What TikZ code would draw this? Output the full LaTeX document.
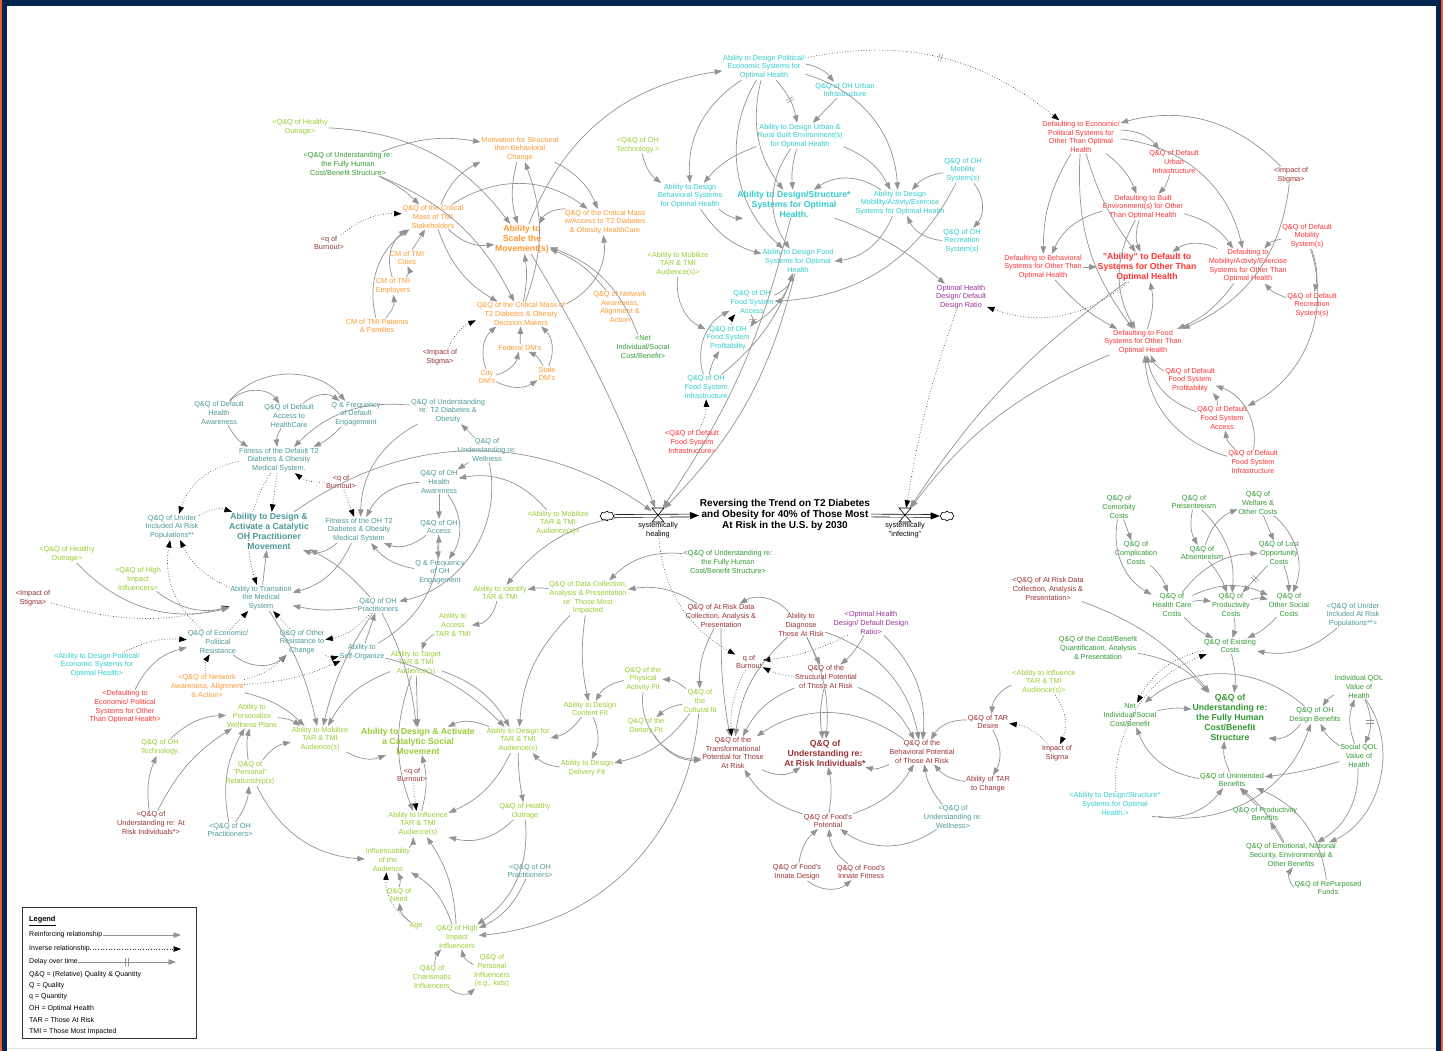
\documentclass[tikz,border=0pt]{standalone}
\usepackage{fontspec}
\setmainfont{Liberation Sans}
\usetikzlibrary{arrows.meta,shapes.symbols,decorations.markings}

\definecolor{cOrg}{HTML}{FF9933}
\definecolor{cCya}{HTML}{33CCCC}
\definecolor{cRed}{HTML}{FF3333}
\definecolor{cMar}{HTML}{993333}
\definecolor{cTea}{HTML}{4D9999}
\definecolor{cLim}{HTML}{99CC33}
\definecolor{cGrn}{HTML}{339933}
\definecolor{cPur}{HTML}{993399}
\definecolor{cLnk}{HTML}{939393}
\definecolor{cNavy}{HTML}{00264D}
\definecolor{cEdge}{HTML}{E65C3C}

\tikzset{
  sdv/.style={align=center, inner sep=0.8pt, font=\fontsize{7.3}{8.7}\selectfont},
  big/.style={font=\fontsize{8.7}{10}\selectfont\bfseries},
  orgv/.style={sdv, text=cOrg},
  cyav/.style={sdv, text=cCya},
  redv/.style={sdv, text=cRed},
  marv/.style={sdv, text=cMar},
  teav/.style={sdv, text=cTea},
  limv/.style={sdv, text=cLim},
  grnv/.style={sdv, text=cGrn},
  purv/.style={sdv, text=cPur},
  lnk/.style={draw=cLnk, line width=0.7pt, -{Triangle[length=7.5pt,width=5.5pt]}},
  inv/.style={draw=black!75, dotted, line width=0.65pt, -{Triangle[length=7.5pt,width=5.5pt,color=black,fill=black]}},
  dly/.style={postaction={decorate, decoration={markings, mark=at position 0.5 with {\draw[draw=cLnk, line width=0.5pt, solid, -] (-1.3pt,-4pt) -- (-1.3pt,4pt) (1.3pt,-4pt) -- (1.3pt,4pt);}}}},
  pipe/.style={draw=black, line width=0.6pt, double=white, double distance=2.2pt, -{Triangle[length=9pt,width=7pt,fill=black]}},
  valve/.style={draw=black, fill=white, line width=0.6pt},
  lg/.style={anchor=west, inner sep=0pt, font=\fontsize{7}{8}\selectfont},
}

\begin{document}
\begin{tikzpicture}[x=1pt,y=-1pt]
  %%%%% FRAME %%%%%
  \useasboundingbox (0,0) rectangle (1443,1051);
  \fill[white] (0,0) rectangle (1443,1051);
  \fill[cNavy] (0,0) rectangle (1443,6);
  \fill[cEdge] (0,0) rectangle (2,1051);
  \fill[cNavy] (2,0) rectangle (7,1051);
  \fill[cNavy] (1436,0) rectangle (1441,1051);
  \fill[cEdge] (1441,0) rectangle (1443,1051);
  \draw[black!12, line width=1pt] (7,1048) -- (1436,1048);

  %%%%% ORANGE: scaling the movement %%%%%
  \node[limv] (houtA) at (300,127) {<Q\&Q of Healthy\\Outrage>};
  \node[grnv] (fhA) at (348,164) {<Q\&Q of Understanding re:\\the Fully Human\\Cost/Benefit Structure>};
  \node[marv] (burnA) at (329,243) {<q of\\Burnout>};
  \node[orgv] (cmtmi) at (433,217) {Q\&Q of the Critical\\Mass of TMI\\Stakeholders};
  \node[orgv] (cmcity) at (407,258) {CM of TMI\\Cities};
  \node[orgv] (cmemp) at (393,286) {CM of TMI\\Employers};
  \node[orgv] (cmpat) at (377,326) {CM of TMI Patients\\\& Families};
  \node[orgv] (motiv) at (520,149) {Motivation for Structural\\then Behavioral\\Change};
  \node[orgv, big] (scale) at (522,239) {Ability to\\Scale the\\Movement(s)};
  \node[orgv] (cmacc) at (605,222) {Q\&Q of the Critical Mass\\w/Access to T2 Diabetes\\\& Obesity HealthCare};
  \node[orgv] (cmdm) at (521,314) {Q\&Q of the Critical Mass of\\T2 Diabetes \& Obesity\\Decision Makers};
  \node[orgv] (netw) at (620,307) {Q\&Q of Network\\Awareness,\\Alignment \&\\Action};
  \node[grnv] (netA) at (643,347) {<Net\\Individual/Social\\Cost/Benefit>};
  \node[marv] (stigA) at (440,357) {<Impact of\\Stigma>};
  \node[orgv] (fed) at (520,348) {Federal DM's};
  \node[orgv] (city) at (487,377) {City\\DM's};
  \node[orgv] (state) at (547,374) {State\\DM's};

  %%%%% CYAN: designing systems %%%%%
  \node[limv] (techA) at (638,145) {<Q\&Q of OH\\Technology.>};
  \node[cyav] (behav) at (690,196) {Ability to Design\\Behavioral Systems\\for Optimal Health};
  \node[cyav] (pol) at (764,67) {Ability to Design Political/\\Economic Systems for\\Optimal Health};
  \node[cyav] (qurb) at (845,90) {Q\&Q of OH Urban\\Infrastructure};
  \node[cyav] (urb) at (800,136) {Ability to Design Urban \&\\Rural Built Environment(s)\\for Optimal Health};
  \node[cyav, big] (struct) at (794,204) {Ability to Design/Structure*\\Systems for Optimal\\Health.};
  \node[cyav] (mob) at (900,203) {Ability to Design\\Mobility/Activty/Exercise\\Systems for Optimal Health};
  \node[cyav] (qmob) at (963,170) {Q\&Q of OH\\Mobility\\System(s)};
  \node[cyav] (qrec) at (962,241) {Q\&Q of OH\\Recreation\\System(s)};
  \node[cyav] (food) at (798,261) {Ability to Design Food\\Systems for Optimal\\Health};
  \node[limv] (mobA) at (678,264) {<Ability to Mobilize\\TAR \& TMI\\Audience(s)>};
  \node[cyav] (facc) at (752,302) {Q\&Q of OH\\Food System\\Access};
  \node[cyav] (fprof) at (728,338) {Q\&Q of OH\\Food System\\Profitability};
  \node[cyav] (finfra) at (706,387) {Q\&Q of OH\\Food System\\Infrastructure};
  \node[redv] (dfinfA) at (692,442) {<Q\&Q of Default\\Food System\\Infrastructure>};
  \node[purv] (ratio) at (961,297) {Optimal Health\\Design/ Default\\Design Ratio};

  %%%%% RED: defaulting %%%%%
  \node[redv] (defEcon) at (1081,137) {Defaulting to Economic/\\Political Systems for\\Other Than Optimal\\Health};
  \node[redv] (qdurb) at (1174,162) {Q\&Q of Default\\Urban\\Infrastructure};
  \node[marv] (stigB) at (1291,175) {<Impact of\\Stigma>};
  \node[redv] (defBuilt) at (1143,207) {Defaulting to Built\\Environment(s) for Other\\Than Optimal Health};
  \node[redv] (defBeh) at (1043,267) {Defaulting to Behavioral\\Systems for Other Than\\Optimal Health};
  \node[redv, big] (abDef) at (1147,267) {"Ability" to Default to\\Systems for Other Than\\Optimal Health};
  \node[redv] (defMob) at (1248,266) {Defaulting to\\Mobility/Activty/Exercise\\Systems for Other Than\\Optimal Health};
  \node[redv] (qdmob) at (1307,236) {Q\&Q of Default\\Mobility\\System(s)};
  \node[redv] (qdrec) at (1312,305) {Q\&Q of Default\\Recreation\\System(s)};
  \node[redv] (defFood) at (1143,342) {Defaulting to Food\\Systems for Other Than\\Optimal Health};
  \node[redv] (dfprof) at (1190,380) {Q\&Q of Default\\Food System\\Profitability};
  \node[redv] (dfacc) at (1222,418) {Q\&Q of Default\\Food System\\Access};
  \node[redv] (dfinfra) at (1253,462) {Q\&Q of Default\\Food System\\Infrastructure};

  %%%%% TEAL: practitioner movement %%%%%
  \node[teav] (dHA) at (219,413) {Q\&Q of Default\\Health\\Awareness};
  \node[teav] (dAcc) at (289,416) {Q\&Q of Default\\Access to\\HealthCare};
  \node[teav] (dEng) at (356,414) {Q \& Frequency\\of Default\\Engagement};
  \node[teav] (uT2) at (448,411) {Q\&Q of Understanding\\re: T2 Diabetes \&\\Obesity};
  \node[teav] (fitDef) at (279,460) {Fitness of the Default T2\\Diabetes \& Obesity\\Medical System.};
  \node[marv] (burnB) at (341,482) {<q of\\Burnout>};
  \node[teav] (uWell) at (487,450) {Q\&Q of\\Understanding re:\\Wellness};
  \node[teav] (ohHA) at (439,482) {Q\&Q of OH\\Health\\Awareness};
  \node[teav] (unInc) at (172,527) {Q\&Q of Un/der\\Included At Risk\\Populations**};
  \node[teav, big] (abOH) at (269,531) {Ability to Design \&\\Activate a Catalytic\\OH Practitioner\\Movement};
  \node[teav] (fitOH) at (359,530) {Fitness of the OH T2\\Diabetes \& Obesity\\Medical System};
  \node[teav] (ohAcc) at (439,527) {Q\&Q of OH\\Access};
  \node[limv] (mobB) at (558,523) {<Ability to Mobilize\\TAR \& TMI\\Audience(s)>};
  \node[limv] (houtB) at (67,554) {<Q\&Q of Healthy\\Outrage>};
  \node[limv] (hiB) at (138,579) {<Q\&Q of High\\Impact\\Influencers>};
  \node[teav] (ohEng) at (440,572) {Q \& Frequency\\of OH\\Engagement};
  \node[teav] (trans) at (261,598) {Ability to Transition\\the Medical\\System};
  \node[marv] (stigC) at (33,598) {<Impact of\\Stigma>};
  \node[teav] (qOHP) at (378,605) {Q\&Q of OH\\Practitioners};
  \node[teav] (econRes) at (218,642) {Q\&Q of Economic/\\Political\\Resistance};
  \node[teav] (othRes) at (302,642) {Q\&Q of Other\\Resistance to\\Change};
  \node[teav] (selfOrg) at (362,652) {Ability to\\Self-Organize};
  \node[cyav] (polB) at (97,665) {<Ability to Design Political/\\Economic Systems for\\Optimal Health>};
  \node[orgv] (netwB) at (207,686) {<Q\&Q of Network\\Awareness, Alignment\\\& Action>};
  \node[redv] (defEconB) at (125,707) {<Defaulting to\\Economic/ Political\\Systems for Other\\Than Optimal Health>};

  %%%%% LIME: social movement %%%%%
  \node[limv] (ident) at (500,593) {Ability to Identify\\TAR \& TMI};
  \node[limv] (access) at (453,625) {Ability to\\Access\\TAR \& TMI};
  \node[limv] (target) at (416,663) {Ability to Target\\TAR \& TMI\\Audience(s)};
  \node[limv] (dataC) at (588,598) {Q\&Q of Data Collection,\\Analysis \& Presentation\\re: Those Most\\Impacted};
  \node[limv] (pers) at (252,716) {Ability to\\Personalize\\Wellness Plans};
  \node[limv] (techC) at (160,747) {Q\&Q of OH\\Technology.};
  \node[limv] (mobC) at (320,739) {Ability to Mobilize\\TAR \& TMI\\Audience(s)};
  \node[limv] (persRel) at (250,773) {Q\&Q of\\"Personal"\\Relationship(s)};
  \node[limv, big] (catSoc) at (418,741) {Ability to Design \& Activate\\a Catalytic Social\\Movement};
  \node[limv] (dsgnFor) at (518,740) {Ability to Design for\\TAR \& TMI\\Audience(s)};
  \node[marv] (burnC) at (412,775) {<q of\\Burnout>};
  \node[limv] (infl) at (418,824) {Ability to Influence\\TAR \& TMI\\Audience(s)};
  \node[limv] (hoC) at (525,811) {Q\&Q of Healthy\\Outrage};
  \node[limv] (inflcb) at (388,860) {Influencability\\of the\\Audience};
  \node[limv] (need) at (399,895) {Q\&Q of\\Need};
  \node[limv] (age) at (416,926) {Age};
  \node[limv] (hiC) at (457,937) {Q\&Q of High\\Impact\\Influencers};
  \node[teav] (ohpC) at (530,871) {<Q\&Q of OH\\Practitioners>};
  \node[limv] (charis) at (432,977) {Q\&Q of\\Charismatic\\Influencers};
  \node[limv] (persInf) at (492,971) {Q\&Q of\\Personal\\Influencers\\(e.g., kids)};
  \node[marv] (uARC) at (151,823) {<Q\&Q of\\Understanding re: At\\Risk Individuals*>};
  \node[teav] (ohpD) at (230,830) {<Q\&Q of OH\\Practitioners>};
  \node[limv] (phys) at (643,679) {Q\&Q of the\\Physical\\Activity Fit};
  \node[limv] (cult) at (700,701) {Q\&Q of\\the\\Cultural fit};
  \node[limv] (content) at (590,709) {Ability to Design\\Content Fit};
  \node[limv] (diet) at (646,726) {Q\&Q of the\\Dietary Fit};
  \node[limv] (deliv) at (587,768) {Ability to Design\\Delivery Fit};

  %%%%% MAROON: those at risk %%%%%
  \node[grnv] (fhB) at (728,562) {<Q\&Q of Understanding re:\\the Fully Human\\Cost/Benefit Structure>};
  \node[marv] (arData) at (721,616) {Q\&Q of At Risk Data\\Collection, Analysis \&\\Presentation};
  \node[marv] (diag) at (801,625) {Ability to\\Diagnose\\Those At Risk};
  \node[purv] (ratioB) at (871,623) {<Optimal Health\\Design/ Default Design\\Ratio>};
  \node[marv] (burnD) at (749,662) {q of\\Burnout};
  \node[marv] (structP) at (826,677) {Q\&Q of the\\Structural Potential\\of Those At Risk};
  \node[marv] (transf) at (733,753) {Q\&Q of the\\Transformational\\Potential for Those\\At Risk};
  \node[marv, big] (uARD) at (825,753) {Q\&Q of\\Understanding re:\\At Risk Individuals*};
  \node[marv] (behP) at (922,752) {Q\&Q of the\\Behavioral Potential\\of Those At Risk};
  \node[marv] (tarDes) at (988,722) {Q\&Q of TAR\\Desire};
  \node[marv] (abTAR) at (988,784) {Ability of TAR\\to Change};
  \node[marv] (stigD) at (1057,753) {Impact of\\Stigma};
  \node[limv] (infB) at (1044,682) {<Ability to Influence\\TAR \& TMI\\Audience(s)>};
  \node[marv] (foodP) at (828,821) {Q\&Q of Food's\\Potential};
  \node[teav] (uWellC) at (953,817) {<Q\&Q of\\Understanding re:\\Wellness>};
  \node[marv] (fInD) at (797,872) {Q\&Q of Food's\\Innate Design};
  \node[marv] (fInF) at (861,872) {Q\&Q of Food's\\Innate Fitness};
  \node[marv] (arDataB) at (1048,589) {<Q\&Q of At Risk Data\\Collection, Analysis \&\\Presentation>};

  %%%%% GREEN: costs and benefits %%%%%
  \node[grnv] (comorb) at (1119,507) {Q\&Q of\\Comorbity\\Costs};
  \node[grnv] (presen) at (1194,502) {Q\&Q of\\Presenteeism};
  \node[grnv] (welf) at (1258,503) {Q\&Q of\\Welfare \&\\Other Costs};
  \node[grnv] (compl) at (1136,553) {Q\&Q of\\Complication\\Costs};
  \node[grnv] (absen) at (1202,553) {Q\&Q of\\Absenteeism};
  \node[grnv] (lost) at (1279,553) {Q\&Q of Lost\\Opportunity\\Costs};
  \node[grnv] (hc) at (1172,605) {Q\&Q of\\Health Care\\Costs};
  \node[grnv] (prodC) at (1231,605) {Q\&Q of\\Productivity\\Costs};
  \node[grnv] (othSoc) at (1289,605) {Q\&Q of\\Other Social\\Costs};
  \node[teav] (unIncB) at (1353,615) {<Q\&Q of Un/der\\Included At Risk\\Populations**>};
  \node[grnv] (cbq) at (1098,648) {Q\&Q of the Cost/Benefit\\Quantification, Analysis\\\& Presentation};
  \node[grnv] (exist) at (1230,646) {Q\&Q of Existing\\Costs};
  \node[grnv] (net) at (1130,715) {Net\\Individual/Social\\Cost/Benefit};
  \node[grnv, big] (fhC) at (1230,717) {Q\&Q of\\Understanding re:\\the Fully Human\\Cost/Benefit\\Structure};
  \node[grnv] (indQ) at (1359,687) {Individual QOL\\Value of\\Health};
  \node[grnv] (dBen) at (1315,715) {Q\&Q of OH\\Design Benefits};
  \node[grnv] (socQ) at (1359,756) {Social QOL\\Value of\\Health};
  \node[grnv] (unint) at (1232,780) {Q\&Q of Unintended\\Benefits};
  \node[cyav] (structB) at (1115,804) {<Ability to Design/Structure*\\Systems for Optimal\\Health.>};
  \node[grnv] (prodB) at (1265,814) {Q\&Q of Productivity\\Benefits};
  \node[grnv] (emot) at (1291,855) {Q\&Q of Emotional, National\\Security, Environmental \&\\Other Benefits};
  \node[grnv] (repurp) at (1328,888) {Q\&Q of RePurposed\\Funds};

  %%%%% STOCK AND FLOWS %%%%%
  \node[sdv, font=\fontsize{10}{10.8}\selectfont\bfseries] (stock) at (785,515) {Reversing the Trend on T2 Diabetes\\and Obesity for 40\% of Those Most\\At Risk in the U.S. by 2030};
  \node[cloud, draw, cloud puffs=8, aspect=1.4, minimum width=14pt, minimum height=10pt, inner sep=0pt, line width=0.6pt] (cloudL) at (607,516) {};
  \node[cloud, draw, cloud puffs=8, aspect=1.4, minimum width=14pt, minimum height=10pt, inner sep=0pt, line width=0.6pt] (cloudR) at (947,516) {};
  \node[inner sep=0pt, minimum width=12pt, minimum height=14pt] (heal) at (658,515) {};
  \node[inner sep=0pt, minimum width=12pt, minimum height=14pt] (infect) at (905,515) {};
  \node[sdv] (healLbl) at (658,530) {systemically\\healing};
  \node[sdv] (infLbl) at (905,530) {systemically\\"infecting"};

  %%%%% LINKS: orange %%%%%
  \draw[lnk] (houtA) to[bend left=25] (scale);
  \draw[lnk] (fhA) to[bend left=15] (motiv);
  \draw[lnk] (fhA) to[bend left=10] (cmtmi);
  \draw[lnk] (fhA) to[bend left=20] (cmdm);
  \draw[inv] (burnA) to[bend left=20] (cmtmi);
  \draw[lnk] (cmtmi) to[bend left=20] (motiv);
  \draw[lnk] (cmtmi) to[bend left=35] (cmacc);
  \draw[lnk] (cmtmi) to[bend right=25] (scale);
  \draw[lnk] (cmtmi) to[bend right=20] (cmdm);
  \draw[lnk] (cmcity) -- (cmtmi);
  \draw[lnk] (cmemp) to[bend right=30] (cmcity);
  \draw[lnk] (cmemp) to[bend left=35] (cmtmi);
  \draw[lnk] (cmpat) to[bend left=35] (cmtmi);
  \draw[lnk] (cmpat) to[bend right=25] (cmemp);
  \draw[lnk] (motiv) to[bend right=15] (scale);
  \draw[lnk] (motiv) to[bend left=20] (cmacc);
  \draw[lnk] (cmdm) to[bend right=20] (motiv);
  \draw[lnk] (scale) to[bend left=30] (pol);
  \draw[lnk] (cmacc) to[bend right=30] (scale);
  \draw[lnk] (netw) to[bend right=15] (scale);
  \draw[lnk] (netA) to[bend right=25] (scale);
  \draw[lnk] (cmdm) to[bend right=10] (scale);
  \draw[lnk] (cmdm) to[bend right=35] (cmacc);
  \draw[lnk] (fed) -- (cmdm);
  \draw[lnk] (city) to[bend left=35] (cmdm);
  \draw[lnk] (state) to[bend right=35] (cmdm);
  \draw[lnk] (city) to[bend right=30] (fed);
  \draw[lnk] (city) to[bend right=30] (state);
  \draw[lnk] (state) to[bend right=20] (fed);
  \draw[inv] (stigA) to[bend left=20] (cmdm);
  \draw[lnk] (scale) to[bend left=5] (heal);

  %%%%% LINKS: cyan %%%%%
  \draw[lnk] (techA) to[bend right=20] (behav);
  \draw[lnk] (pol) to[bend right=30] (behav);
  \draw[lnk,dly] (pol) to[bend left=15] (urb);
  \draw[lnk] (pol) to[bend left=20] (qurb);
  \draw[lnk] (qurb) -- (urb);
  \draw[lnk] (pol) to[bend left=35] (mob);
  \draw[lnk] (pol) to[bend right=25] (struct);
  \draw[lnk] (pol) to[bend right=40] (food);
  \draw[lnk] (urb) to[bend right=10] (struct);
  \draw[lnk] (urb) to[bend left=20] (mob);
  \draw[lnk] (urb) to[bend right=15] (behav);
  \draw[lnk] (urb) to[bend right=35] (food);
  \draw[lnk] (behav) to[bend right=20] (struct);
  \draw[lnk] (behav) to[bend right=20] (food);
  \draw[lnk] (mob) to[bend right=35] (struct);
  \draw[lnk] (mob) to[bend left=30] (food);
  \draw[lnk] (qmob) to[bend right=20] (mob);
  \draw[lnk] (qmob) to[bend left=40] (qrec);
  \draw[lnk] (qrec) to[bend left=30] (mob);
  \draw[lnk] (qmob) to[bend left=30] (facc);
  \draw[lnk] (struct) to[bend left=10] (ratio);
  \draw[lnk] (facc) to[bend right=25] (food);
  \draw[lnk] (fprof) to[bend right=20] (food);
  \draw[lnk] (finfra) to[bend right=15] (food);
  \draw[lnk,dly] (facc) to[bend left=30] (fprof);
  \draw[inv] (fprof) to[bend left=20] (facc);
  \draw[lnk] (finfra) to[bend left=10] (fprof);
  \draw[lnk] (finfra) to[bend left=40] (facc);
  \draw[inv] (dfinfA) to[bend right=15] (finfra);
  \draw[lnk] (mobA) to[bend right=35] (fprof);
  \draw[lnk] (struct) to[bend left=10] (heal);
  \draw[lnk] (food) to[bend left=15] (heal);

  %%%%% LINKS: red %%%%%
  \draw[inv,dly] (pol) to[bend left=25] (defEcon);
  \draw[lnk] (stigB) to[bend right=30] (defEcon);
  \draw[lnk] (stigB) to[bend left=30] (defFood);
  \draw[lnk] (defEcon) to[bend left=25] (qdurb);
  \draw[lnk] (defEcon) to[bend left=15] (defBuilt);
  \draw[lnk] (defEcon) to[bend left=35] (defMob);
  \draw[lnk] (defEcon) to[bend right=15] (defBeh);
  \draw[lnk] (defEcon) to[bend right=10] (abDef);
  \draw[lnk] (defEcon) to[bend right=20] (defFood);
  \draw[lnk] (qdurb) to[bend left=15] (defBuilt);
  \draw[lnk] (defBuilt) to[bend right=20] (abDef);
  \draw[lnk] (defBuilt) to[bend left=20] (defMob);
  \draw[lnk] (defBuilt) to[bend right=30] (defFood);
  \draw[lnk] (defBuilt) to[bend right=25] (defBeh);
  \draw[lnk] (qdmob) to[bend right=20] (defMob);
  \draw[lnk] (qdmob) to[bend left=15] (qdrec);
  \draw[lnk] (qdrec) to[bend left=15] (defMob);
  \draw[lnk] (defMob) to[bend right=30] (abDef);
  \draw[lnk] (defMob) to[bend left=15] (defFood);
  \draw[lnk] (qdmob) to[bend left=40] (dfacc);
  \draw[lnk] (defFood) to[bend right=15] (abDef);
  \draw[lnk] (defBeh) -- (abDef);
  \draw[lnk] (defBeh) to[bend right=10] (defFood);
  \draw[inv] (abDef) to[bend left=30] (ratio);
  \draw[lnk] (abDef) to[bend right=10] (infect);
  \draw[lnk] (defFood) to[bend right=15] (infect);
  \draw[inv] (ratio) to[bend right=5] (infect);
  \draw[lnk] (dfprof) to[bend left=20] (defFood);
  \draw[lnk] (dfacc) to[bend left=30] (defFood);
  \draw[lnk] (dfinfra) to[bend left=35] (defFood);
  \draw[lnk] (dfacc) to[bend right=20] (dfprof);
  \draw[lnk] (dfinfra) to[bend left=20] (dfacc);
  \draw[lnk] (dfinfra) to[bend right=40] (dfprof);

  %%%%% LINKS: teal %%%%%
  \draw[lnk] (dHA) to[bend left=50] (dAcc);
  \draw[lnk] (dHA) to[bend left=50] (dEng);
  \draw[lnk] (dAcc) to[bend left=40] (dEng);
  \draw[lnk] (dHA) to[bend right=15] (fitDef);
  \draw[lnk] (dAcc) to[bend right=20] (fitDef);
  \draw[lnk] (dEng) to[bend left=10] (fitDef);
  \draw[lnk] (uT2) to[bend right=25] (fitDef);
  \draw[inv] (fitDef) to[bend right=30] (unInc);
  \draw[inv] (fitDef) -- (abOH);
  \draw[inv] (fitDef) to[bend right=25] (trans);
  \draw[inv] (burnB) to[bend left=20] (fitDef);
  \draw[inv] (burnB) -- (fitOH);
  \draw[inv] (unInc) to[bend left=25] (abOH);
  \draw[inv] (trans) to[bend left=20] (unInc);
  \draw[inv] (econRes) to[bend left=30] (unInc);
  \draw[lnk] (fitOH) to[bend left=30] (abOH);
  \draw[lnk] (trans) -- (abOH);
  \draw[lnk] (fitOH) to[bend left=25] (trans);
  \draw[lnk] (qOHP) to[bend left=10] (trans);
  \draw[lnk] (qOHP) to[bend right=10] (abOH);
  \draw[inv] (econRes) -- (trans);
  \draw[inv] (othRes) -- (trans);
  \draw[inv] (stigC) to[bend right=15] (trans);
  \draw[lnk] (houtB) to[bend right=30] (trans);
  \draw[lnk] (hiB) to[bend right=25] (trans);
  \draw[inv] (polB) to[bend left=15] (econRes);
  \draw[lnk] (defEconB) to[bend left=25] (econRes);
  \draw[inv] (netwB) to[bend left=20] (econRes);
  \draw[inv] (netwB) to[bend right=15] (othRes);
  \draw[inv] (netwB) to[bend right=10] (selfOrg);
  \draw[lnk] (econRes) to[bend right=40] (othRes);
  \draw[inv] (qOHP) to[bend left=20] (othRes);
  \draw[inv] (othRes) to[bend right=20] (selfOrg);
  \draw[lnk] (uWell) -- (ohHA);
  \draw[lnk] (uWell) -- (uT2);
  \draw[lnk] (uWell) to[bend left=45] (qOHP);
  \draw[lnk] (mobB) to[bend right=30] (ohHA);
  \draw[lnk] (ohHA) -- (ohAcc);
  \draw[lnk] (ohHA) to[bend left=35] (ohEng);
  \draw[lnk] (ohAcc) to[bend right=5] (ohEng);
  \draw[lnk] (ohAcc) to[bend left=30] (fitOH);
  \draw[lnk] (ohHA) to[bend right=30] (fitOH);
  \draw[lnk] (ohEng) to[bend left=20] (fitOH);
  \draw[lnk] (uT2) to[bend right=30] (fitOH);
  \draw[lnk] (selfOrg) -- (qOHP);
  \draw[lnk] (selfOrg) to[bend right=30] (ohAcc);
  \draw[lnk] (abOH) to[bend left=35] (heal);

  %%%%% LINKS: lime %%%%%
  \draw[lnk] (dataC) to[bend right=10] (ident);
  \draw[lnk] (arData) to[bend right=20] (dataC);
  \draw[lnk] (fhB) to[bend right=25] (dataC);
  \draw[lnk] (ident) to[bend left=35] (access);
  \draw[lnk] (access) to[bend right=20] (target);
  \draw[lnk] (heal) to[bend right=25] (ident);
  \draw[lnk] (target) to[bend right=20] (mobC);
  \draw[lnk] (target) -- (catSoc);
  \draw[lnk] (target) to[bend left=20] (dsgnFor);
  \draw[lnk] (target) to[bend right=20] (infl);
  \draw[lnk] (dataC) to[bend right=10] (content);
  \draw[lnk] (dataC) to[bend right=20] (dsgnFor);
  \draw[lnk] (phys) to[bend right=25] (content);
  \draw[lnk] (cult) to[bend right=20] (phys);
  \draw[lnk] (arData) to[bend right=15] (cult);
  \draw[lnk] (content) to[bend left=20] (dsgnFor);
  \draw[lnk] (content) to[bend left=25] (deliv);
  \draw[lnk] (deliv) to[bend left=20] (dsgnFor);
  \draw[lnk] (cult) to[bend left=20] (deliv);
  \draw[lnk] (cult) to[bend right=15] (diet);
  \draw[lnk] (diet) to[bend right=30] (transf);
  \draw[lnk] (phys) to[bend right=50] (transf);
  \draw[lnk] (dsgnFor) to[bend right=25] (catSoc);
  \draw[lnk] (dsgnFor) to[bend left=20] (infl);
  \draw[lnk] (dsgnFor) to[bend right=5] (hoC);
  \draw[lnk] (infl) to[bend right=15] (catSoc);
  \draw[inv] (burnC) -- (infl);
  \draw[lnk] (hoC) to[bend left=30] (infl);
  \draw[lnk] (hoC) to[bend left=30] (hiC);
  \draw[lnk] (ohpC) to[bend left=20] (hiC);
  \draw[lnk] (inflcb) to[bend right=20] (infl);
  \draw[lnk] (need) to[bend right=20] (inflcb);
  \draw[lnk] (age) to[bend left=25] (need);
  \draw[inv] (age) to[bend left=30] (inflcb);
  \draw[lnk] (hiC) to[bend right=20] (inflcb);
  \draw[lnk] (hiC) to[bend right=15] (infl);
  \draw[lnk] (charis) to[bend left=20] (hiC);
  \draw[lnk] (persInf) to[bend left=25] (hiC);
  \draw[lnk] (charis) to[bend right=40] (persInf);
  \draw[lnk] (cult) to[bend left=40] (hiC);
  \draw[lnk] (persRel) to[bend left=20] (mobC);
  \draw[lnk] (persRel) to[bend right=30] (inflcb);
  \draw[lnk] (persRel) to[bend left=10] (pers);
  \draw[lnk] (techC) to[bend left=20] (pers);
  \draw[lnk] (uARC) to[bend left=15] (techC);
  \draw[lnk] (uARC) to[bend left=15] (pers);
  \draw[lnk] (ohpD) to[bend left=20] (pers);
  \draw[lnk] (ohpD) to[bend right=15] (persRel);
  \draw[lnk] (pers) to[bend left=15] (mobC);
  \draw[lnk] (mobC) to[bend right=25] (catSoc);
  \draw[lnk] (trans) to[bend left=10] (mobC);
  \draw[lnk] (netwB) to[bend left=15] (mobC);
  \draw[lnk] (qOHP) to[bend right=10] (mobC);
  \draw[lnk] (qOHP) to[bend left=10] (catSoc);
  \draw[lnk] (selfOrg) to[bend left=15] (dsgnFor);

  %%%%% LINKS: maroon %%%%%
  \draw[lnk] (diag) to[bend right=40] (arData);
  \draw[lnk] (arData) to[bend right=5] (transf);
  \draw[inv] (ratioB) to[bend left=10] (burnD);
  \draw[inv] (structP) to[bend left=10] (burnD);
  \draw[lnk] (diag) -- (structP);
  \draw[lnk] (ratioB) to[bend left=10] (structP);
  \draw[inv] (heal) to[bend right=30] (burnD);
  \draw[inv] (burnD) to[bend right=15] (transf);
  \draw[lnk] (transf) to[bend right=30] (uARD);
  \draw[lnk] (behP) to[bend right=35] (transf);
  \draw[lnk] (behP) to[bend left=20] (uARD);
  \draw[lnk] (foodP) to[bend right=10] (uARD);
  \draw[lnk] (foodP) to[bend right=20] (behP);
  \draw[lnk] (foodP) to[bend left=20] (transf);
  \draw[lnk] (fInD) to[bend left=20] (foodP);
  \draw[lnk] (fInF) to[bend left=25] (foodP);
  \draw[lnk] (fInD) to[bend right=40] (fInF);
  \draw[lnk] (uWellC) to[bend left=35] (foodP);
  \draw[lnk] (uWellC) to[bend left=15] (behP);
  \draw[lnk] (abTAR) to[bend left=20] (behP);
  \draw[lnk] (tarDes) to[bend right=30] (behP);
  \draw[lnk] (tarDes) to[bend left=30] (abTAR);
  \draw[inv] (stigD) to[bend right=20] (tarDes);
  \draw[inv] (infB) to[bend left=30] (stigD);
  \draw[lnk] (infB) to[bend right=30] (tarDes);
  \draw[lnk] (diag) to[bend left=15] (uARD);
  \draw[lnk] (diag) to[bend left=30] (behP);
  \draw[lnk] (diag) to[bend right=20] (transf);
  \draw[lnk] (structP) to[bend right=10] (uARD);
  \draw[lnk] (structP) to[bend left=20] (behP);
  \draw[lnk] (structP) to[bend right=20] (transf);
  \draw[lnk] (ratioB) to[bend left=25] (behP);

  %%%%% LINKS: green %%%%%
  \draw[lnk] (comorb) -- (compl);
  \draw[lnk] (comorb) to[bend right=35] (hc);
  \draw[lnk] (presen) to[bend right=20] (absen);
  \draw[lnk] (presen) to[bend left=25] (prodC);
  \draw[lnk] (absen) to[bend left=25] (welf);
  \draw[lnk] (absen) to[bend left=10] (prodC);
  \draw[lnk] (compl) to[bend left=15] (hc);
  \draw[lnk] (welf) -- (lost);
  \draw[lnk] (welf) to[bend left=35] (othSoc);
  \draw[lnk] (lost) to[bend left=10] (othSoc);
  \draw[lnk,dly] (lost) -- (prodC);
  \draw[lnk] (hc) to[bend left=25] (lost);
  \draw[lnk] (hc) to[bend left=10] (prodC);
  \draw[lnk] (hc) to[bend left=25] (othSoc);
  \draw[lnk] (prodC) to[bend left=15] (othSoc);
  \draw[lnk] (hc) to[bend right=10] (exist);
  \draw[lnk] (prodC) to[bend left=15] (exist);
  \draw[lnk] (othSoc) to[bend left=10] (exist);
  \draw[lnk] (unIncB) to[bend left=25] (exist);
  \draw[inv] (exist) to[bend right=25] (net);
  \draw[inv] (structB) to[bend left=35] (exist);
  \draw[lnk] (cbq) to[bend left=20] (fhC);
  \draw[lnk] (arDataB) to[bend left=15] (fhC);
  \draw[lnk] (exist) to[bend left=10] (fhC);
  \draw[lnk] (net) to[bend left=10] (fhC);
  \draw[lnk] (dBen) to[bend right=40] (net);
  \draw[lnk] (indQ) to[bend right=15] (dBen);
  \draw[lnk] (dBen) to[bend left=30] (fhC);
  \draw[lnk] (socQ) to[bend left=15] (dBen);
  \draw[lnk,dly] (indQ) to[bend left=25] (socQ);
  \draw[lnk] (socQ) to[bend left=20] (indQ);
  \draw[lnk] (indQ) to[bend left=50] (emot);
  \draw[lnk] (socQ) to[bend left=30] (emot);
  \draw[lnk] (socQ) to[bend left=5] (unint);
  \draw[lnk] (unint) to[bend left=15] (fhC);
  \draw[lnk] (unint) to[bend left=30] (net);
  \draw[lnk] (structB) to[bend right=30] (unint);
  \draw[lnk] (structB) to[bend right=40] (dBen);
  \draw[lnk] (prodB) -- (unint);
  \draw[lnk] (emot) to[bend right=10] (unint);
  \draw[lnk] (emot) -- (prodB);
  \draw[lnk] (repurp) to[bend left=40] (emot);
  \draw[lnk] (repurp) to[bend right=30] (unint);

  %%%%% PIPES AND VALVES %%%%%
  \draw[pipe] (cloudL) -- (stock);
  \draw[pipe] (stock) -- (cloudR);
  \draw[valve] (652,508) -- (664,508) -- (652,522) -- (664,522) -- cycle;
  \draw[valve] (899,508) -- (911,508) -- (899,522) -- (911,522) -- cycle;

  %%%%% LEGEND %%%%%
  \draw[black!80, line width=0.6pt] (22,907) rectangle (196,1038);
  \node[lg, font=\fontsize{7.4}{8}\selectfont\bfseries] (lgHead) at (29,921) {\underline{Legend}};
  \node[lg] (lgRe) at (29,935) {Reinforcing relationship};
  \coordinate (lgReEnd) at (181,935);
  \draw[lnk] (lgRe) -- (lgReEnd);
  \node[lg] (lgIn) at (29,949) {Inverse relationship};
  \coordinate (lgInEnd) at (181,949);
  \draw[inv] (lgIn) -- (lgInEnd);
  \node[lg] (lgDl) at (29,962) {Delay over time};
  \coordinate (lgDlEnd) at (176,962);
  \draw[lnk,dly] (lgDl) -- (lgDlEnd);
  \node[lg] (lgQQ) at (29,975) {Q\&Q = (Relative) Quality \& Quantity};
  \node[lg] (lgQ) at (29,986) {Q = Quality};
  \node[lg] (lgq) at (29,997) {q = Quantity};
  \node[lg] (lgOH) at (29,1009) {OH = Optimal Health};
  \node[lg] (lgTAR) at (29,1020) {TAR = Those At Risk};
  \node[lg] (lgTMI) at (29,1032) {TMI = Those Most Impacted};
\end{tikzpicture}
\end{document}
